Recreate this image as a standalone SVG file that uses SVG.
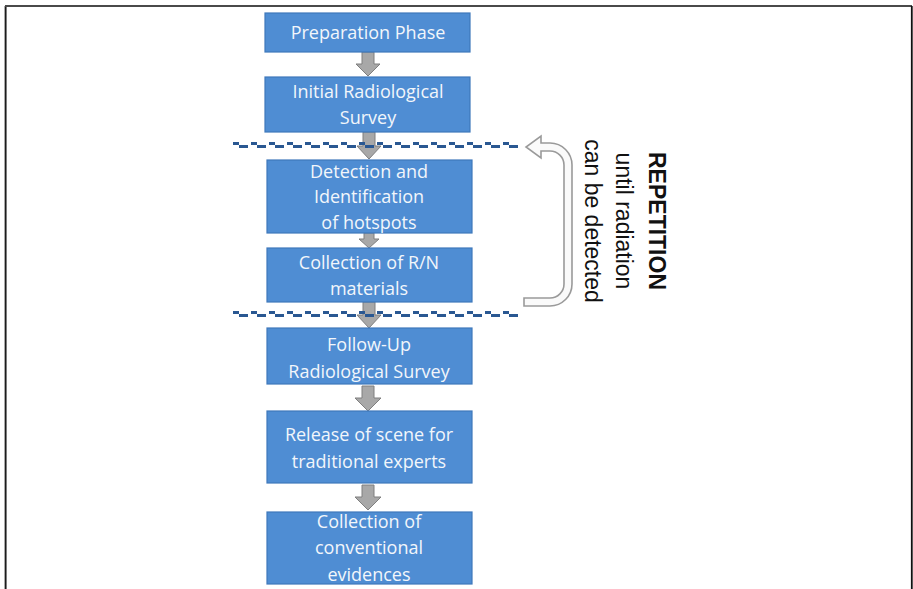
<svg xmlns="http://www.w3.org/2000/svg" width="913" height="589" viewBox="0 0 913 589">
<style>
.box{fill:#4f8dd3;stroke:#3f78bb;stroke-width:1.2}
.t{font-family:"Open Sans","Liberation Sans",sans-serif;font-size:18px;fill:#f2f6fb;text-anchor:middle}
.ba{fill:#a8a8a8;stroke:#7f7f7f;stroke-width:1}
.dashA{stroke:#2a5892;stroke-width:3;fill:none;stroke-dasharray:6 12}
.dashB{stroke:#2a5892;stroke-width:3;fill:none;stroke-dasharray:9 9}
.rt{font-family:"Liberation Sans",Arial,sans-serif;font-size:23px;fill:#111;text-anchor:middle}
</style>
<rect x="0" y="0" width="913" height="589" fill="#fff"/>
<g id="frame">
<line x1="4.5" y1="6" x2="4.5" y2="589" stroke="#aaa" stroke-width="1"/>
<line x1="5.8" y1="6" x2="5.8" y2="589" stroke="#111" stroke-width="1.5"/>
<line x1="5" y1="6" x2="912" y2="6" stroke="#4a4a4a" stroke-width="2"/>
<line x1="911.8" y1="6" x2="911.8" y2="589" stroke="#111" stroke-width="1.8"/>
</g>
<g id="connectors">
<path class="ba" d="M362 52 H374 V64 H380 L368 76 L356 64 H362 Z"/>
<path class="ba" d="M363 132 H375 V146 H381 L369 159 L357 146 H363 Z"/>
<path class="ba" d="M364 233 H374 V239 H379 L369 248 L359 239 H364 Z"/>
<path class="ba" d="M363 302 H375 V315 H381 L369 328 L357 315 H363 Z"/>
<path class="ba" d="M362 386 H374 V398 H381 L368 411 L355 398 H362 Z"/>
<path class="ba" d="M362 485 H374 V497 H381 L368 510 L355 497 H362 Z"/>
<path d="M524 306 L550 306 A22 22 0 0 0 572 284 L572 165 A22 22 0 0 0 550 143 L541 143 L541 136 L526 147 L541 158 L541 151 L550 151 A14 14 0 0 1 564 165 L564 284 A14 14 0 0 1 550 298 L524 298 Z" fill="#fafafa" stroke="#9a9a9a" stroke-width="1.6"/>
</g>
<g id="separators">
<line class="dashA" x1="233" y1="143.5" x2="520" y2="143.5"/>
<line class="dashB" x1="239" y1="146.5" x2="520" y2="146.5"/>
<line class="dashA" x1="233" y1="312.5" x2="520" y2="312.5"/>
<line class="dashB" x1="239" y1="315.5" x2="520" y2="315.5"/>
</g>
<g id="n1"><rect class="box" x="265" y="13" width="205" height="39"/><text class="t" x="368" y="39">Preparation Phase</text></g>
<g id="n2"><rect class="box" x="265" y="77" width="205" height="55"/><text class="t" x="368" y="98">Initial Radiological</text><text class="t" x="368" y="124">Survey</text></g>
<g id="n3"><rect class="box" x="267" y="160" width="205" height="73"/><text class="t" x="369" y="178">Detection and</text><text class="t" x="369" y="203">Identification</text><text class="t" x="369" y="229">of hotspots</text></g>
<g id="n4"><rect class="box" x="267" y="248" width="205" height="54"/><text class="t" x="369" y="269">Collection of R/N</text><text class="t" x="369" y="295">materials</text></g>
<g id="n5"><rect class="box" x="267" y="328" width="205" height="56"/><text class="t" x="369" y="351">Follow-Up</text><text class="t" x="369" y="378">Radiological Survey</text></g>
<g id="n6"><rect class="box" x="267" y="411" width="205" height="72"/><text class="t" x="369" y="441">Release of scene for</text><text class="t" x="369" y="468">traditional experts</text></g>
<g id="n7"><rect class="box" x="267" y="512" width="205" height="72"/><text class="t" x="369" y="528">Collection of</text><text class="t" x="369" y="554">conventional</text><text class="t" x="369" y="581">evidences</text></g>
<g id="note">
<text class="rt" transform="translate(649 221) rotate(90)" font-weight="bold">REPETITION</text>
<text class="rt" transform="translate(616 221) rotate(90)">until radiation</text>
<text class="rt" transform="translate(585 221) rotate(90)">can be detected</text>
</g>
</svg>
